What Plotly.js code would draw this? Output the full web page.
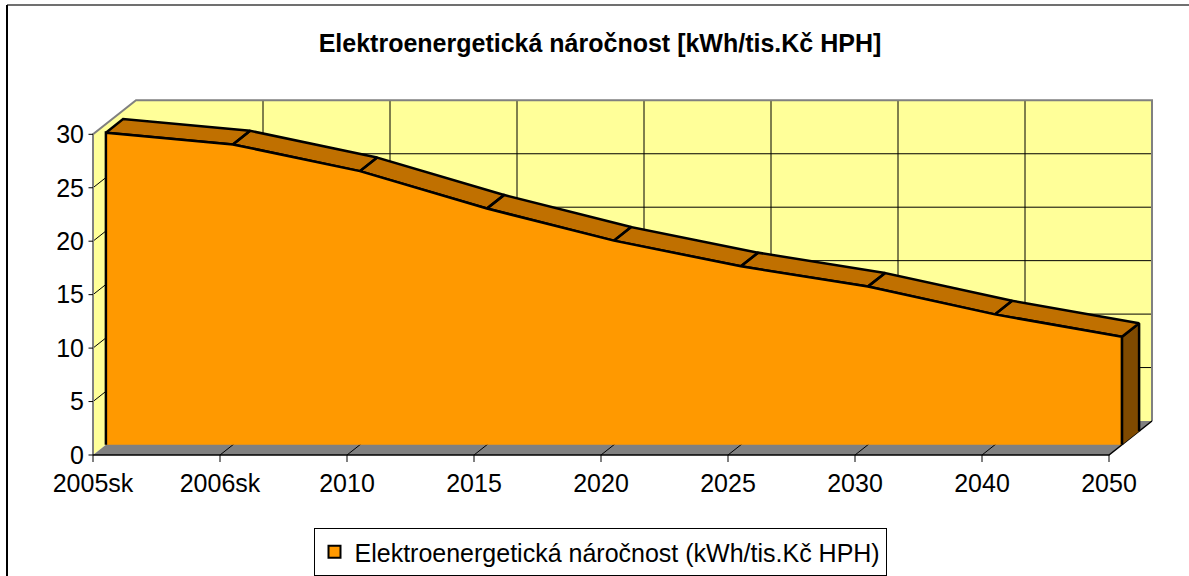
<!DOCTYPE html>
<html>
<head>
<meta charset="utf-8">
<script src="https://cdn.plot.ly/plotly-3.0.1.min.js"></script>
<style>html,body{margin:0;padding:0;background:#fff;}#chart{width:1189px;height:576px;}</style>
</head>
<body>
<div id="chart"></div>
<script>
// ---- data ----
const categories = ['2005sk', '2006sk', '2010', '2015', '2020', '2025', '2030', '2040', '2050'];
const values = [29.2, 28.1, 25.6, 22.1, 19.1, 16.7, 14.8, 12.2, 10.1];
const yTicks = [0, 5, 10, 15, 20, 25, 30];
const titleText = 'Elektroenergetická náročnost [kWh/tis.Kč HPH]';
const seriesName = 'Elektroenergetická náročnost (kWh/tis.Kč HPH)';

// ---- layout geometry (pseudo-3D oblique projection) ----
const X0PX = 93, PXC = 127, Y0PX = 455, PXV = 10.69;
const L = 85, R = 1170, T = 90, B = 464;
const DX = 43 / PXC, DY = 34 / PXV;  // depth offset in data units
const F1 = 0.3, F2 = 0.7;             // series slab depth
const YMAX = yTicks[yTicks.length - 1];
const N = categories.length - 1;
const FONT = 'Liberation Sans, Arial, sans-serif';

function proj(i, v, d) { return [i + d * DX, v + d * DY]; }
function poly(pts) {
  const x = [], y = [];
  pts.forEach(p => { if (p === null) { x.push(null); y.push(null); } else { x.push(p[0]); y.push(p[1]); } });
  return {x, y};
}
function fillTrace(pts, fill, lineColor, lineWidth) {
  const p = poly(pts);
  return {type: 'scatter', mode: 'lines', x: p.x, y: p.y, fill: 'toself', fillcolor: fill,
    line: {color: lineColor || fill, width: lineWidth || 0}, hoverinfo: 'skip', showlegend: false};
}
function lineTrace(pts, color, width) {
  const p = poly(pts);
  return {type: 'scatter', mode: 'lines', x: p.x, y: p.y, connectgaps: false,
    line: {color: color, width: width}, hoverinfo: 'skip', showlegend: false};
}

const traces = [];
// walls and floor
traces.push(fillTrace([proj(0,0,0), proj(0,YMAX,0), proj(0,YMAX,1), proj(0,0,1)], '#FFFF99'));
traces.push(fillTrace([proj(0,0,1), proj(N,0,1), proj(N,YMAX,1), proj(0,YMAX,1)], '#FFFF99'));
traces.push(fillTrace([proj(0,0,0), proj(N,0,0), proj(N,0,1), proj(0,0,1)], '#808080'));

// gridlines
const grid = [];
yTicks.forEach(v => {
  if (v > 0 && v < YMAX) {
    grid.push(proj(0,v,1), proj(N,v,1), null);
    grid.push(proj(0,v,0), proj(0,v,1), null);
  }
});
categories.forEach((c, i) => {
  if (i > 0 && i < N) grid.push(proj(i,0,1), proj(i,YMAX,1), null);
  if (i > 0 && i < N) grid.push(proj(i,0,0), proj(i,0,1), null);
});
traces.push(lineTrace(grid, '#000000', 1));

// wall borders
traces.push(lineTrace([proj(0,0,0), proj(0,YMAX,0), proj(0,YMAX,1), proj(N,YMAX,1), proj(N,0,1)], '#808080', 2));
// floor edges / axis line
traces.push(lineTrace([proj(0,0,0), proj(N,0,0), proj(N,0,1)], '#000000', 1.5));

// ticks
const tickPts = [];
categories.forEach((c, i) => { tickPts.push(proj(i,0,0), [i, -7 / PXV], null); });
yTicks.forEach(v => { tickPts.push([-4.5 / PXC, v], proj(0,v,0), null); });
traces.push(lineTrace(tickPts, '#000000', 1));

// series: right side
traces.push(fillTrace([proj(N,0,F1), proj(N,values[N],F1), proj(N,values[N],F2), proj(N,0,F2)], '#7F4A00', '#000000', 2.5));
// series: top face segments
const topPts = [];
for (let i = 0; i < N; i++) {
  topPts.push(proj(i,values[i],F1), proj(i+1,values[i+1],F1), proj(i+1,values[i+1],F2), proj(i,values[i],F2), proj(i,values[i],F1), null);
}
traces.push(fillTrace(topPts, '#C07000', '#000000', 2.5));
// series: front face
const frontPts = [proj(0,0,F1)];
values.forEach((v, i) => frontPts.push(proj(i,v,F1)));
frontPts.push(proj(N,0,F1));
traces.push(fillTrace(frontPts, '#FF9900'));
traces.push(lineTrace(frontPts, '#000000', 2.5));

// legend entry
traces.push({type: 'bar', x: [null], y: [null], name: seriesName,
  marker: {color: '#FF9900', line: {color: '#000000', width: 2}}, hoverinfo: 'skip', showlegend: true});

const xp = px => (px - L) / (R - L);
const yp = py => (B - py) / (B - T);

const layout = {
  width: 1189, height: 576,
  margin: {l: L, r: 1189 - R, t: T, b: 576 - B, pad: 0, autoexpand: false},
  paper_bgcolor: '#ffffff', plot_bgcolor: 'rgba(0,0,0,0)',
  font: {family: FONT, color: '#000000', size: 25},
  title: {text: '<b>' + titleText + '</b>', font: {family: FONT, size: 25, color: '#000000'},
    x: 600 / 1189, xref: 'container', xanchor: 'center', y: 1 - 43 / 576, yref: 'container', yanchor: 'middle'},
  xaxis: {range: [(L - X0PX) / PXC, (R - X0PX) / PXC], tickvals: categories.map((c, i) => i), ticktext: categories,
    showgrid: false, zeroline: false, showline: false, ticks: '', tickfont: {size: 25, family: FONT, color: '#000'},
    ticklabelstandoff: 2, fixedrange: true, automargin: false},
  yaxis: {range: [(Y0PX - B) / PXV, (Y0PX - T) / PXV], tickvals: yTicks, ticktext: yTicks.map(String),
    showgrid: false, zeroline: false, showline: false, ticks: '', tickfont: {size: 25, family: FONT, color: '#000'},
    ticklabelstandoff: 0, fixedrange: true, automargin: false},
  showlegend: true,
  legend: {orientation: 'h', x: xp(600), xanchor: 'center', y: yp(552), yanchor: 'middle',
    bordercolor: '#000000', borderwidth: 1, bgcolor: '#ffffff', font: {size: 25, family: FONT, color: '#000'},
    itemwidth: 30},
  shapes: [
    {type: 'line', xref: 'paper', yref: 'paper', x0: xp(7), x1: xp(1195), y0: yp(5), y1: yp(5), line: {color: '#707070', width: 2}},
    {type: 'line', xref: 'paper', yref: 'paper', x0: xp(7), x1: xp(7), y0: yp(5), y1: yp(590), line: {color: '#000000', width: 2}}
  ]
};

Plotly.newPlot('chart', traces, layout, {displayModeBar: false, staticPlot: true});
</script>
</body>
</html>
